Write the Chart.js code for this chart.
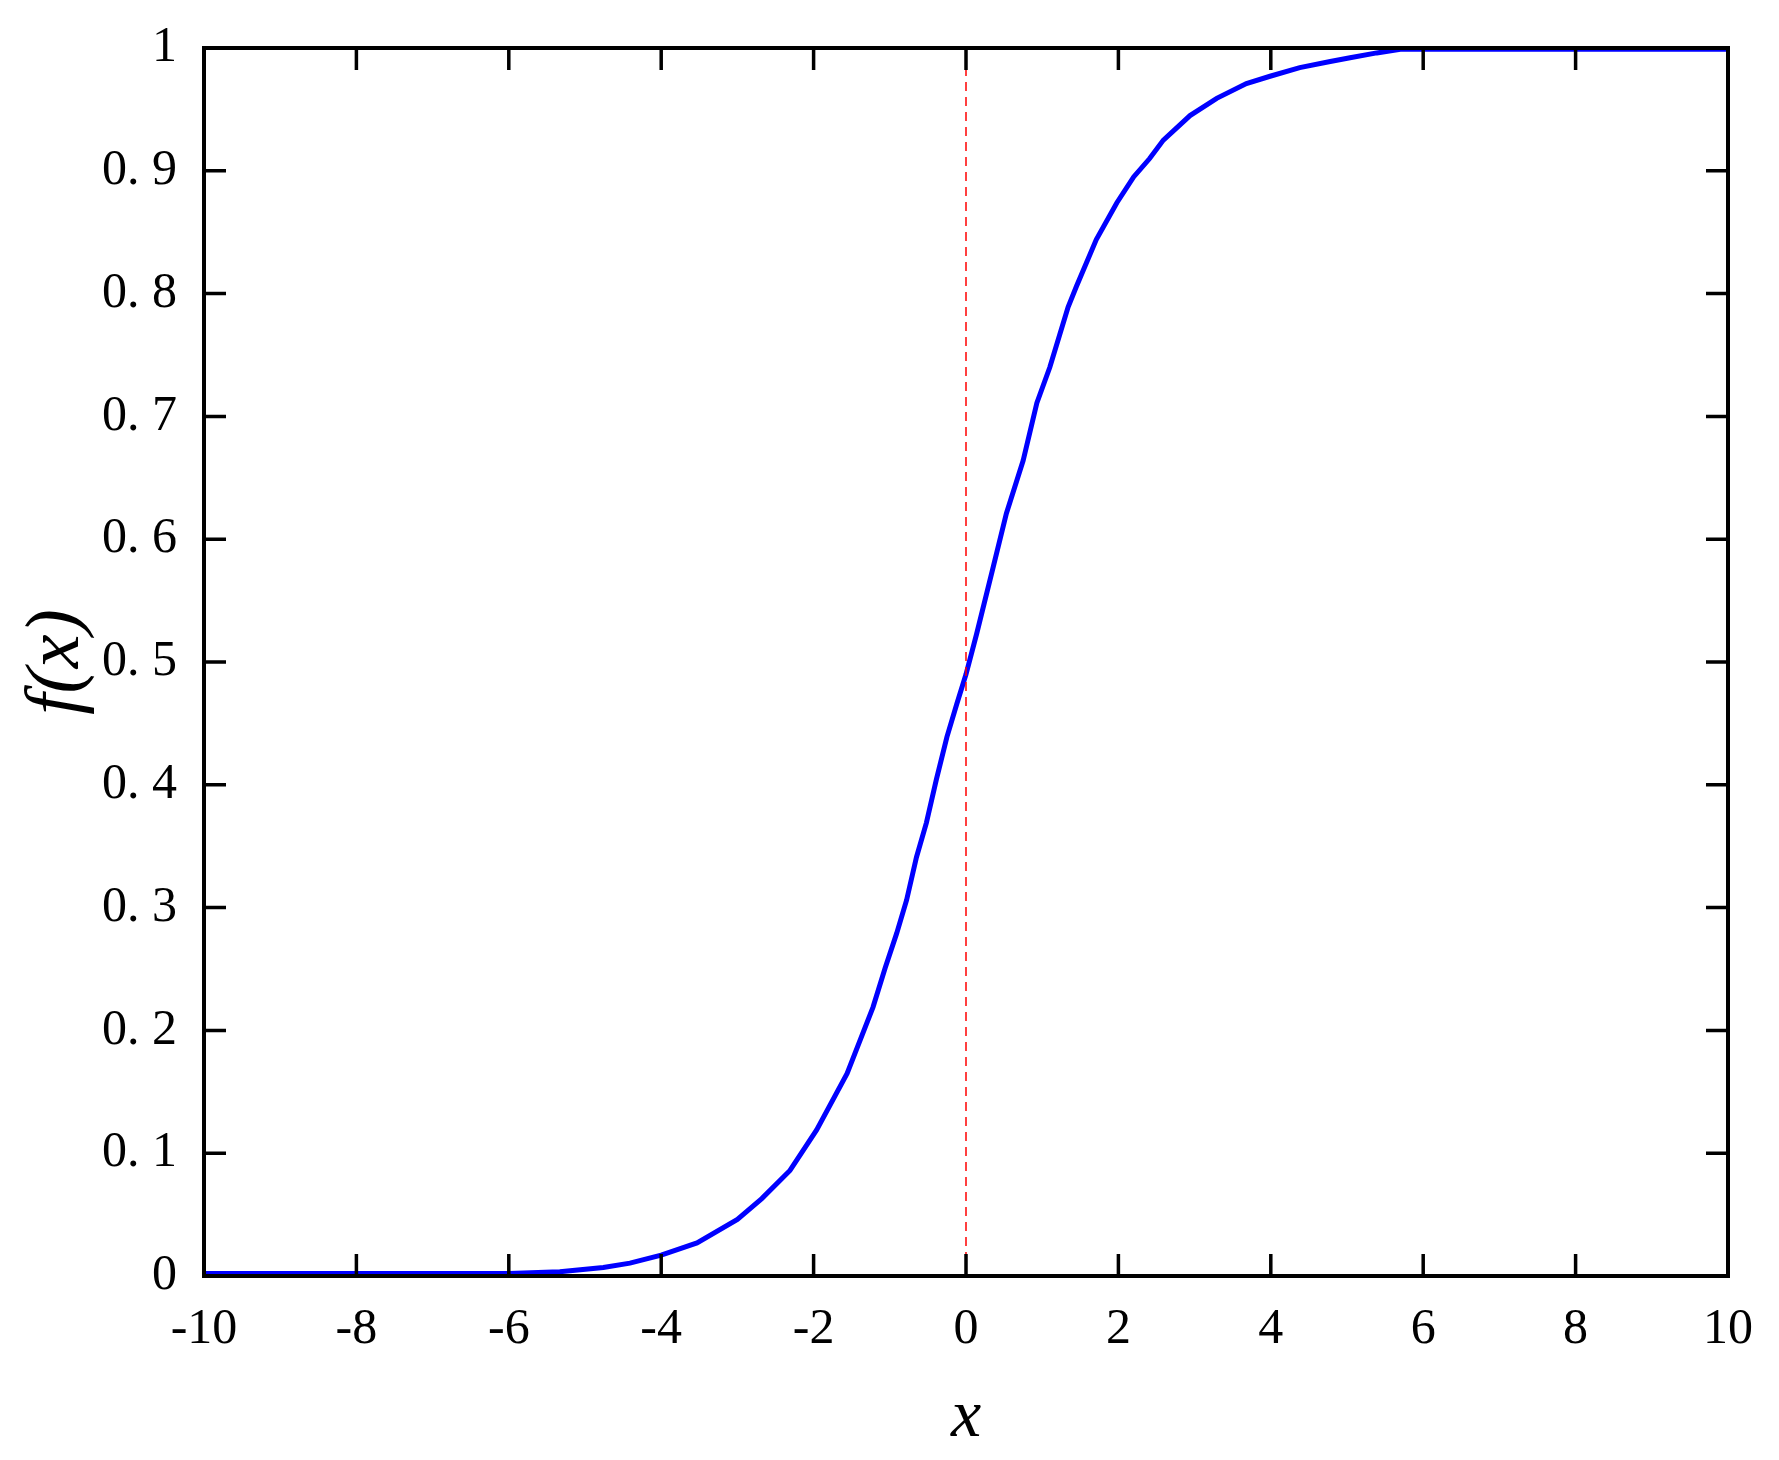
<!DOCTYPE html>
<html>
<head>
<meta charset="utf-8">
<script src="https://cdn.jsdelivr.net/npm/chart.js@4.4.1/dist/chart.umd.min.js"></script>
<style>
    html, body { margin: 0; padding: 0; background: #ffffff; }
    #wrap { width: 1779px; height: 1460px; position: relative; }
</style>
</head>
<body>
<div id="wrap"><canvas id="sigmoid-chart"></canvas></div>
<script>
// Points
const xValues = [-10, -6, -5.33, -4.76, -4.41, -4, -3.53, -3.0, -2.68, -2.31, -1.96, -1.56, -1.22, -1.06,
    -0.91, -0.78, -0.65, -0.52, -0.39, -0.25, -0.12, 0, 0.14, 0.36, 0.53, 0.75, 0.93, 1.10, 1.34, 1.45,
    1.71, 1.98, 2.20, 2.41, 2.59, 2.94, 3.29, 3.68, 3.99, 4.38, 4.78, 5.04, 5.39, 5.7, 10];
const fValues = [0.002, 0.002, 0.0035, 0.007, 0.0105, 0.017, 0.027, 0.046, 0.063, 0.086, 0.119, 0.165, 0.219, 0.251,
    0.279, 0.306, 0.341, 0.369, 0.404, 0.439, 0.466, 0.490, 0.523, 0.578, 0.621, 0.664, 0.711, 0.740, 0.789, 0.806,
    0.844, 0.874, 0.895, 0.910, 0.925, 0.945, 0.959, 0.971, 0.977, 0.984, 0.989, 0.992, 0.996, 0.999, 0.999];

// Vertical reference line at x = 0
const refLineX = [0, 0];
const refLineY = [0, 1];

const xRange = [-10, 10];
const yRange = [0, 1];

const serif = "'Liberation Serif', 'DejaVu Serif', serif";

/**
 * Cadre noir avec graduations vers l'intérieur sur les quatre côtés
 */
const framePlugin = {
    id: 'frame',
    afterDatasetsDraw(chart) {
        const ctx = chart.ctx;
        const area = chart.chartArea;
        const xs = chart.scales.x;
        const ys = chart.scales.y;
        const len = 22;

        ctx.save();
        ctx.strokeStyle = '#000000';
        ctx.lineCap = 'butt';

        // graduations
        ctx.lineWidth = 3.5;
        ctx.beginPath();
        xs.ticks.forEach(t => {
            const px = xs.getPixelForValue(t.value);
            ctx.moveTo(px, area.bottom);
            ctx.lineTo(px, area.bottom - len);
            ctx.moveTo(px, area.top);
            ctx.lineTo(px, area.top + len);
        });
        ys.ticks.forEach(t => {
            const py = ys.getPixelForValue(t.value);
            ctx.moveTo(area.left, py);
            ctx.lineTo(area.left + len, py);
            ctx.moveTo(area.right, py);
            ctx.lineTo(area.right - len, py);
        });
        ctx.stroke();

        // cadre
        ctx.lineWidth = 4;
        ctx.strokeRect(area.left, area.top, area.right - area.left, area.bottom - area.top);
        ctx.restore();
    }
};

function formatYTick(value) {
    if (value === 0 || value === 1) {
        return String(value);
    }
    return value.toFixed(1).replace('.', '. ');
}

function initSigmoidChart() {
    const ctx = document.getElementById('sigmoid-chart').getContext('2d');

    const curve = xValues.map((x, i) => ({ x: x, y: fValues[i] }));
    const refLine = refLineX.map((x, i) => ({ x: x, y: refLineY[i] }));

    const config = {
        type: 'line',
        data: {
            datasets: [
                {
                    label: 'ref',
                    data: refLine,
                    borderColor: '#ff0000',
                    borderWidth: 1.5,
                    borderDash: [9, 6],
                    pointRadius: 0,
                    tension: 0
                },
                {
                    label: 'f(x)',
                    data: curve,
                    borderColor: '#0000ff',
                    borderWidth: 5,
                    pointRadius: 0,
                    tension: 0
                }
            ]
        },
        options: {
            responsive: true,
            maintainAspectRatio: false,
            animation: false,
            layout: {
                padding: { top: 48, right: 51, left: 0, bottom: 0 }
            },
            plugins: {
                legend: { display: false },
                tooltip: { enabled: false }
            },
            scales: {
                x: {
                    type: 'linear',
                    min: xRange[0],
                    max: xRange[1],
                    grid: { display: false, drawTicks: false },
                    border: { display: false },
                    ticks: {
                        stepSize: 2,
                        padding: 24,
                        color: '#000000',
                        maxRotation: 0,
                        autoSkip: false,
                        font: { family: serif, size: 50 }
                    },
                    title: {
                        display: true,
                        text: 'x',
                        color: '#000000',
                        padding: { top: 0, bottom: 1 },
                        font: { family: serif, size: 68, style: 'italic' }
                    },
                    afterFit: function(scale) {
                        scale.height = 184;
                        scale.paddingLeft = 0;
                        scale.paddingRight = 0;
                    }
                },
                y: {
                    type: 'linear',
                    min: yRange[0],
                    max: yRange[1],
                    grid: { display: false, drawTicks: false },
                    border: { display: false },
                    ticks: {
                        stepSize: 0.1,
                        padding: 27,
                        color: '#000000',
                        autoSkip: false,
                        font: { family: serif, size: 50 },
                        callback: formatYTick
                    },
                    title: {
                        display: true,
                        text: 'f(x)',
                        color: '#000000',
                        padding: { top: 12, bottom: 0 },
                        font: { family: serif, size: 76, style: 'italic' }
                    },
                    afterFit: function(scale) {
                        scale.width = 204;
                        scale.paddingTop = 0;
                        scale.paddingBottom = 0;
                    }
                }
            }
        },
        plugins: [framePlugin]
    };

    new Chart(ctx, config);
}

document.addEventListener('DOMContentLoaded', function() {
    initSigmoidChart();
});
</script>
</body>
</html>
